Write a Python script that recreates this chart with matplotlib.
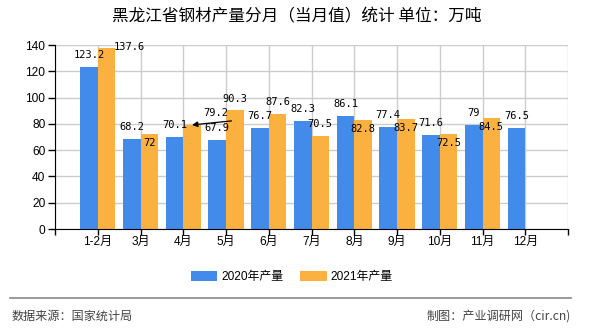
import matplotlib
matplotlib.use("Agg")
import matplotlib.pyplot as plt
import numpy as np

# ---------------- data ----------------
categories = ["1-2月", "3月", "4月", "5月", "6月", "7月", "8月", "9月", "10月", "11月", "12月"]
prod_2020 = [123.2, 68.2, 70.1, 67.9, 76.7, 82.3, 86.1, 77.4, 71.6, 79, 76.5]
prod_2021 = [137.6, 72, 79.2, 90.3, 87.6, 70.5, 82.8, 83.7, 72.5, 84.5]
series_names = ["2020年产量", "2021年产量"]
title = "黑龙江省钢材产量分月（当月值）统计 单位：万吨"
source_text = "数据来源：国家统计局"
credit_text = "制图：产业调研网（cir.cn)"
yticks = [0, 20, 40, 60, 80, 100, 120, 140]

# label placement offsets (pixels) for the 2021 value labels
lbl21_dx = [23, 0, 23.5, 0, 0, 0, 0, 0, 0, 0]
lbl21_dy = [1, -9, 12, 11, 12, 12, -9, -9, -9, -9]

BLUE = "#428BEB"
ORANGE = "#FBB13F"
CJK = "Noto Sans CJK SC"

fig = plt.figure(figsize=(5.9, 3.3), dpi=100)
ax = fig.add_axes([55 / 590, (330 - 229) / 330, (568 - 55) / 590, (229 - 45) / 330])

n = len(categories)
x = np.arange(n)
w = 0.41
ax.bar(x - w / 2, prod_2020, width=w, color=BLUE, zorder=3, label=series_names[0])
x21 = np.arange(len(prod_2021))
ax.bar(x21 + w / 2, prod_2021, width=w, color=ORANGE, zorder=3, label=series_names[1])

ax.set_xlim(-1, n)
ax.set_ylim(0, 140)

# grid
ax.set_xticks(np.arange(-1, n + 1), minor=False)
ax.set_xticklabels([""] * (n + 2))
ax.set_yticks(yticks)
ax.set_yticklabels([str(v) for v in yticks], family=["Liberation Sans"], fontsize=8.6)
ax.grid(True, color="#cccccc", linewidth=1, zorder=0)
ax.tick_params(axis="x", length=4, width=1, color="black", pad=2)
ax.tick_params(axis="y", length=5, width=1, color="black", pad=2)
for s in ["top", "right"]:
    ax.spines[s].set_visible(False)
ax.spines["left"].set_color("black")
ax.spines["bottom"].set_color("black")
ax.spines["left"].set_zorder(5)
ax.spines["bottom"].set_zorder(5)

# category labels
for i, c in enumerate(categories):
    ax.annotate(c, xy=(i, 0), xytext=(0, -13), textcoords="offset pixels",
                ha="center", va="center", fontsize=8.6,
                family=["Liberation Sans", CJK], annotation_clip=False)

# value labels
mono = "DejaVu Sans Mono"
for i, v in enumerate(prod_2020):
    ax.annotate(f"{v:g}", xy=(i - w / 2, v), xytext=(0, 12), textcoords="offset pixels",
                ha="center", va="center", fontsize=7.5, family=mono, zorder=6)
for i, v in enumerate(prod_2021):
    ax.annotate(f"{v:g}", xy=(i + w / 2, v), xytext=(lbl21_dx[i], lbl21_dy[i]),
                textcoords="offset pixels", ha="center", va="center",
                fontsize=7.5, family=mono, zorder=6)

# leader arrow for the crowded 4月 label
k = 2
ax.annotate("", xy=(k + w / 2, prod_2021[k]), xytext=(39.5, 4), textcoords="offset pixels",
            arrowprops=dict(arrowstyle="-|>", color="black", lw=0.9,
                            mutation_scale=8, shrinkA=0, shrinkB=0), zorder=6)

# title
fig.text(297 / 590, 1 - 17 / 330, title, ha="center", va="center",
         fontsize=12, family=[CJK], color="#000000")

# legend
leg = fig.legend(loc="center", bbox_to_anchor=(292 / 590, 1 - 277 / 330), ncol=2,
                 frameon=False, prop={"family": ["Liberation Sans", CJK], "size": 8.6},
                 handlelength=2.2, handleheight=0.9, handletextpad=0.35,
                 columnspacing=1.4)

# separator and footer
fig.add_artist(plt.Line2D([10 / 590, 571 / 590], [1 - 298 / 330, 1 - 298 / 330],
                          color="#888888", linewidth=1.2))
fig.text(12 / 590, 1 - 316 / 330, source_text, ha="left", va="center",
         fontsize=8.7, family=[CJK], color="#444444")
fig.text(571 / 590, 1 - 316 / 330, credit_text, ha="right", va="center",
         fontsize=8.7, family=[CJK], color="#444444")

fig.savefig("out.png", dpi=100)
